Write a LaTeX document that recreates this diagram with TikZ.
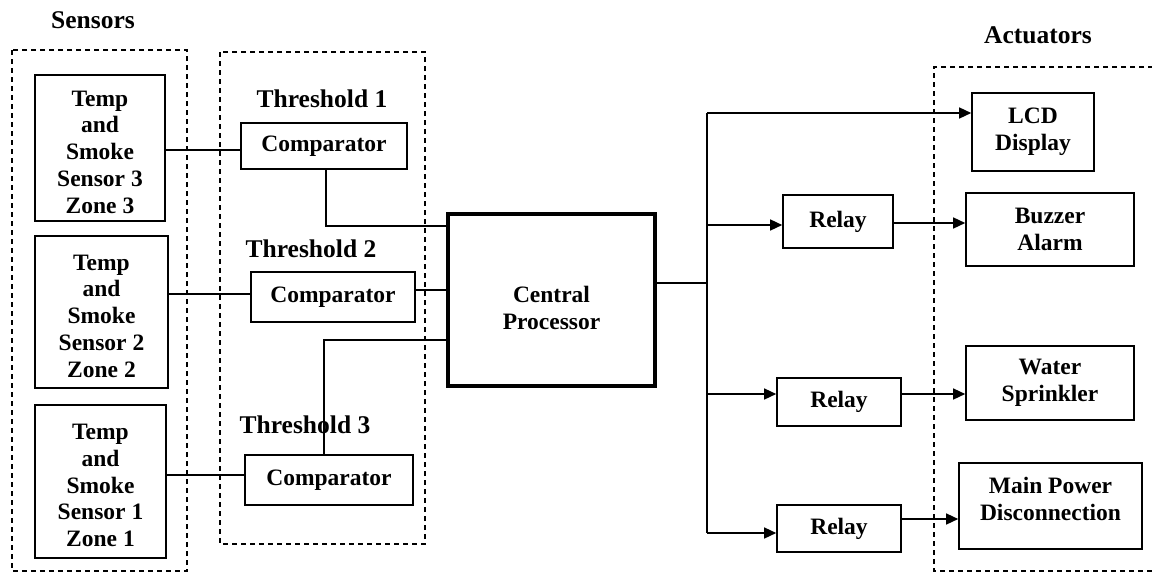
\documentclass[tikz,border=0pt]{standalone}
\usepackage{fontspec}
\setmainfont{Liberation Serif}
\usetikzlibrary{arrows.meta}
\begin{document}
\begin{tikzpicture}[x=1pt,y=-1pt,
  every node/.style={font=\fontsize{23.5}{26.8}\selectfont\bfseries},
  box/.style={draw, line width=1.6pt, inner sep=0pt, align=center},
  cpbox/.style={draw, line width=3.6pt, inner sep=0pt, align=center},
  dbox/.style={draw, line width=1.4pt, dash pattern=on 5pt off 4pt},
  wire/.style={draw, line width=1.4pt},
  arr/.style={wire, -{Triangle[length=12pt,width=11pt]}},
  lbl/.style={inner sep=0pt, font=\fontsize{25.5}{28}\selectfont\bfseries}]
\useasboundingbox (0,0) rectangle (1152,573);
% dashed groups
\draw[dbox] (12,50) rectangle (187,571);
\draw[dbox] (220,52) rectangle (425,544);
\draw[dbox] (1153,67) -- (934,67) -- (934,571) -- (1153,571);
% titles
\node[lbl] (tsens) at (93,20) {Sensors};
\node[lbl] (tact) at (1038,35) {Actuators};
\node[lbl] (th1) at (322,99) {Threshold 1};
\node[lbl] (th2) at (311,249) {Threshold 2};
\node[lbl] (th3) at (305,425) {Threshold 3};
% sensors
\node[box, minimum width=130pt, minimum height=146pt] (s3) at (100,148) {\rule{0pt}{23.5pt}Temp\\and\\Smoke\\Sensor 3\\Zone 3};
\node[box, minimum width=133pt, minimum height=152pt] (s2) at (101.5,312) {\rule{0pt}{23.5pt}Temp\\and\\Smoke\\Sensor 2\\Zone 2};
\node[box, minimum width=131pt, minimum height=153pt] (s1) at (100.5,481.5) {\rule{0pt}{23.5pt}Temp\\and\\Smoke\\Sensor 1\\Zone 1};
% comparators
\node[box, minimum width=166pt, minimum height=46pt] (c1) at (324,146) {Comparator};
\node[box, minimum width=164pt, minimum height=50pt] (c2) at (333,297) {Comparator};
\node[box, minimum width=168pt, minimum height=50pt] (c3) at (329,480) {Comparator};
% central processor
\node[cpbox, minimum width=207pt, minimum height=172pt] (cp) at (551.5,300) {\rule{0pt}{33pt}Central\\Processor};
% relays and actuators
\node[box, minimum width=122pt, minimum height=78pt] (lcd) at (1033,132) {LCD\\Display};
\node[box, minimum width=110pt, minimum height=53pt] (r1) at (838,221.5) {Relay};
\node[box, minimum width=168pt, minimum height=73pt] (buz) at (1050,229.5) {Buzzer\\Alarm};
\node[box, minimum width=124pt, minimum height=48pt] (r2) at (839,402) {Relay};
\node[box, minimum width=168pt, minimum height=74pt] (wat) at (1050,383) {Water\\Sprinkler};
\node[box, minimum width=124pt, minimum height=47pt] (r3) at (839,528.5) {Relay};
\node[box, minimum width=183pt, minimum height=86pt] (mp) at (1050.5,506) {Main Power\\Disconnection\\[-12pt]};
% sensor -> comparator
\draw[wire] (s3.east |- 0,150) -- (c1.west |- 0,150);
\draw[wire] (s2.east |- 0,294) -- (c2.west |- 0,294);
\draw[wire] (s1.east |- 0,475) -- (c3.west |- 0,475);
% comparator -> CP
\draw[wire] (c1.south -| 326,0) |- (cp.west |- 0,226);
\draw[wire] (c2.east |- 0,290) -- (cp.west |- 0,290);
\draw[wire] (c3.north -| 324,0) |- (cp.west |- 0,340);
% CP -> bus
\coordinate (bt) at (707,113);
\coordinate (bb) at (707,533);
\draw[wire] (cp.east |- 0,283) -- (bt |- 0,283);
\draw[wire] (bt) -- (bb);
\draw[arr] (bt) -- (lcd.west |- bt);
\draw[arr] (bt |- 0,225) -- (r1.west |- 0,225);
\draw[arr] (bt |- 0,394) -- (r2.west |- 0,394);
\draw[arr] (bb) -- (r3.west |- bb);
% relays -> actuators
\draw[arr] (r1.east |- 0,223) -- (buz.west |- 0,223);
\draw[arr] (r2.east |- 0,394) -- (wat.west |- 0,394);
\draw[arr] (r3.east |- 0,519) -- (mp.west |- 0,519);
\end{tikzpicture}
\end{document}
